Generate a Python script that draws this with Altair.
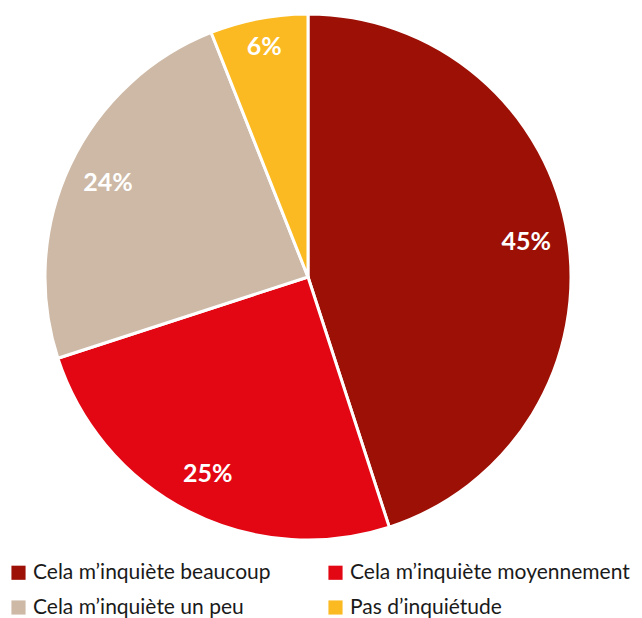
import altair as alt
import pandas as pd

categories = ["Cela m’inquiète beaucoup", "Cela m’inquiète moyennement", "Cela m’inquiète un peu", "Pas d’inquiétude"]
values = [45, 25, 24, 6]
labels = ["45%", "25%", "24%", "6%"]
colors = ["#9C1006", "#E30613", "#CDB9A6", "#FBBA21"]

df = pd.DataFrame({"cat": categories, "val": values, "lab": labels, "idx": list(range(len(values)))})

FONT = "Lato"

arc = alt.Chart(df).mark_arc(outerRadius=263, stroke="white", strokeWidth=3).encode(
    theta=alt.Theta("val:Q", stack=True),
    order=alt.Order("idx:Q"),
    color=alt.Color(
        "cat:N",
        scale=alt.Scale(domain=categories, range=colors),
        legend=alt.Legend(
            title=None,
            orient="bottom",
            direction="horizontal",
            offset=19,
            columns=2,
            columnPadding=54,
            rowPadding=13,
            symbolType="square",
            symbolSize=200,
            symbolStrokeWidth=0,
            symbolOpacity=1,
            labelFontSize=21,
            labelFont=FONT,
            labelColor="#1a1a1a",
            labelLimit=400,
            labelOffset=4,
        ),
    ),
)

# label positions: middle of each slice, computed before any filtering
lab_base = (
    alt.Chart(df)
    .transform_window(cum="sum(val)", sort=[alt.SortField("idx")])
    .transform_calculate(mid="datum.cum - datum.val / 2")
    .encode(
        theta=alt.Theta("mid:Q", stack=None, scale=alt.Scale(domain=[0, 100], range=[0, 6.283185307179586])),
        text="lab:N",
    )
)

text_main = lab_base.mark_text(radius=221, font=FONT, fontSize=25, fontWeight="bold", color="white").transform_filter(
    alt.datum.val > 10
)
text_small = lab_base.mark_text(radius=234, font=FONT, fontSize=25, fontWeight="bold", color="white").transform_filter(
    alt.datum.val <= 10
)

chart = (
    alt.layer(arc, text_main, text_small)
    .resolve_scale(theta="independent")
    .properties(width=600, height=532, padding=0)
    .configure_view(stroke=None)
)

chart.save("out.html", embed_options={"renderer": "svg", "actions": False})
